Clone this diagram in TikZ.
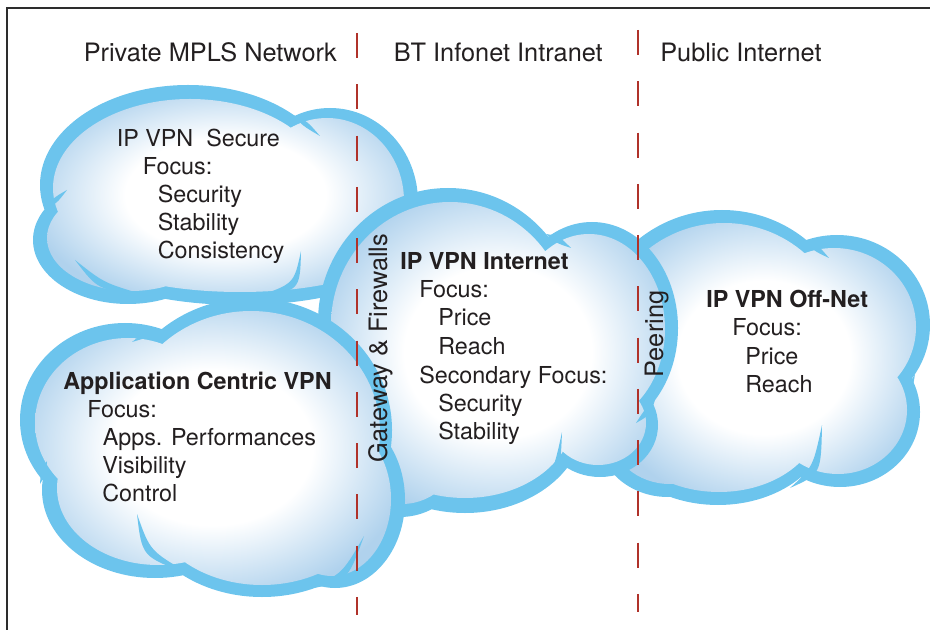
\documentclass[tikz,border=0pt]{standalone}
\usepackage{fontspec}
\setmainfont{TeX Gyre Heros}

\definecolor{rimblue}{RGB}{108,196,237}
\definecolor{cloudin}{RGB}{176,210,237}
\definecolor{ink}{RGB}{35,31,32}
\definecolor{borderred}{RGB}{176,50,42}
\definecolor{framegray}{RGB}{45,45,45}

% soft white core fading to pale blue towards the rim
\pgfdeclareradialshading{cloudglow}{\pgfpoint{0bp}{0bp}}{%
  color(0bp)=(white); color(13bp)=(white); color(26bp)=(cloudin); color(50bp)=(cloudin)}

\tikzset{
  txt/.style={anchor=base west, inner sep=0pt, text=ink, font=\fontsize{17.5}{21}\selectfont},
  hdr/.style={anchor=base west, inner sep=0pt, text=ink, font=\fontsize{17.5}{21}\selectfont\bfseries},
  zone/.style={anchor=base west, inner sep=0pt, text=ink, font=\fontsize{19}{23}\selectfont},
  sidelabel/.style={rotate=90, anchor=base, inner sep=0pt, text=ink, font=\fontsize{19}{23}\selectfont},
  boundary/.style={draw=borderred, line width=1.5pt, dash pattern=on 18.75pt off 19.7pt},
  horn/.style={fill=rimblue},
  rim/.style={fill=rimblue},
}

\begin{document}
\begin{tikzpicture}[x=0.75pt,y=-0.75pt]
\useasboundingbox (0,0) rectangle (930,630);

% outer frame (top and left edges)
\coordinate (fbl) at (7,631);
\coordinate (ftl) at (7,8);
\coordinate (ftr) at (931,8);
\draw[framegray, line width=1.1pt] (fbl) -- (ftl) -- (ftr);

% ---------------- cloud: IP VPN Secure ----------------
\fill[rim] (330,202) ellipse [x radius=88, y radius=94]
           (188,185) ellipse [x radius=148, y radius=100]
           (128,240) ellipse [x radius=95, y radius=64]
           (240,245) ellipse [x radius=170, y radius=60];
\begin{scope}
  \clip (327,201) ellipse [x radius=77, y radius=83]
        (190,188) ellipse [x radius=137, y radius=89]
        (131,238) ellipse [x radius=84, y radius=53]
        (240,243) ellipse [x radius=159, y radius=49];
  \shade[shading=cloudglow] (33,85) rectangle (418,305);
\end{scope}
\fill[horn] (293,115) .. controls (307,121) .. (320,136) .. controls (303,126) .. (293,115) -- cycle;
\fill[horn] (45,210) .. controls (53,198) .. (67,190) .. controls (57,203) .. (45,210) -- cycle;
\fill[horn] (145,295) .. controls (98,290) .. (75,260) .. controls (104,283) .. (145,295) -- cycle;
\fill[horn] (255,297) .. controls (300,291) .. (301,251) .. controls (294,284) .. (255,297) -- cycle;

% ---------------- cloud: IP VPN Off-Net ----------------
\fill[rim] (837,325) ellipse [x radius=93, y radius=90]
           (722,340) ellipse [x radius=132, y radius=130]
           (840,412) ellipse [x radius=80, y radius=75]
           (718,420) ellipse [x radius=112, y radius=85]
           (668,435) ellipse [x radius=70, y radius=62];
\begin{scope}
  \clip (834,327) ellipse [x radius=82, y radius=79]
        (724,342) ellipse [x radius=121, y radius=119]
        (838,410) ellipse [x radius=69, y radius=64]
        (719,418) ellipse [x radius=101, y radius=74]
        (670,433) ellipse [x radius=59, y radius=51];
  \shade[shading=cloudglow] (598,210) rectangle (930,505);
\end{scope}
\fill[horn] (804,240) .. controls (818,245) .. (829,258) .. controls (814,251) .. (804,240) -- cycle;
\fill[horn] (790,488) .. controls (821,474) .. (822,425) .. controls (813,467) .. (790,488) -- cycle;
\fill[horn] (915,374) .. controls (913,387) .. (906,397) .. controls (909,384) .. (915,374) -- cycle;

% ---------------- cloud: IP VPN Internet ----------------
\fill[rim] (592,328) ellipse [x radius=86, y radius=106]
           (600,425) ellipse [x radius=58, y radius=52]
           (448,322) ellipse [x radius=130, y radius=134]
           (465,418) ellipse [x radius=120, y radius=95]
           (400,445) ellipse [x radius=70, y radius=72];
\begin{scope}
  \clip (589,329) ellipse [x radius=76, y radius=95]
        (598,423) ellipse [x radius=48, y radius=42]
        (450,325) ellipse [x radius=119, y radius=123]
        (465,415) ellipse [x radius=109, y radius=83]
        (402,443) ellipse [x radius=59, y radius=61];
  \shade[shading=cloudglow] (318,188) rectangle (678,517);
\end{scope}
\fill[horn] (546,234) .. controls (559,236) .. (571,248) .. controls (556,243) .. (546,234) -- cycle;
\fill[horn] (655,400) .. controls (650,415) .. (636,423) .. controls (645,409) .. (655,400) -- cycle;
\fill[horn] (525,497) .. controls (560,480) .. (562,432) .. controls (553,474) .. (525,497) -- cycle;

% ---------------- cloud: Application Centric VPN ----------------
\fill[rim] (125,420) ellipse [x radius=105, y radius=97]
           (252,430) ellipse [x radius=140, y radius=132]
           (155,490) ellipse [x radius=113, y radius=88]
           (335,500) ellipse [x radius=70, y radius=88]
           (262,495) ellipse [x radius=128, y radius=102];
\begin{scope}
  \clip (128,423) ellipse [x radius=93, y radius=85]
        (251,432) ellipse [x radius=129, y radius=121]
        (158,488) ellipse [x radius=101, y radius=77]
        (332,499) ellipse [x radius=59, y radius=77]
        (262,493) ellipse [x radius=117, y radius=92];
  \shade[shading=cloudglow] (20,298) rectangle (405,597);
\end{scope}
\fill[horn] (162,329) .. controls (147,330) .. (132,342) .. controls (149,337) .. (162,329) -- cycle;
\fill[horn] (40,484) .. controls (41,470) .. (47,461) .. controls (46,474) .. (40,484) -- cycle;
\fill[horn] (190,574) .. controls (142,557) .. (137,514) .. controls (150,551) .. (190,574) -- cycle;
\fill[horn] (300,590) .. controls (347,583) .. (364,536) .. controls (341,576) .. (300,590) -- cycle;

% ---------------- zone boundaries ----------------
\coordinate (b1top) at (357,33);
\coordinate (b1bot) at (357,615);
\coordinate (b2top) at (638,30);
\coordinate (b2bot) at (638,612);
\draw[boundary] (b1top) -- (b1bot);
\draw[boundary] (b2top) -- (b2bot);

% ---------------- zone titles ----------------
\node[zone] (zprivate) at (83.5,62) {Private MPLS Network};
\node[zone] (zintranet) at (393.5,62) {BT Infonet Intranet};
\node[zone] (zpublic) at (660,62) {Public Internet};

% ---------------- boundary labels ----------------
\node[sidelabel] (gateway) at (387,348) {Gateway \& Firewalls};
\node[sidelabel] (peering) at (663,334) {Peering};

% ---------------- IP VPN Secure ----------------
\node[txt] (s1) at (116.5,147) {IP VPN~~Secure};
\node[txt] (s2) at (142.5,175) {Focus:};
\node[txt] (s3) at (157.5,203) {Security};
\node[txt] (s4) at (157.5,231) {Stability};
\node[txt] (s5) at (157.5,259) {Consistency};

% ---------------- Application Centric VPN ----------------
\node[hdr] (a1) at (63,389) {Application Centric VPN};
\node[txt] (a2) at (87,417) {Focus:};
\node[txt] (a3) at (102.5,445) {Apps. Performances};
\node[txt] (a4) at (102,473) {Visibility};
\node[txt] (a5) at (102,501) {Control};

% ---------------- IP VPN Internet ----------------
\node[hdr] (i1) at (400,270) {IP VPN Internet};
\node[txt] (i2) at (419,298) {Focus:};
\node[txt] (i3) at (438,326) {Price};
\node[txt] (i4) at (438,354) {Reach};
\node[txt] (i5) at (419,383) {Secondary Focus:};
\node[txt] (i6) at (438,411) {Security};
\node[txt] (i7) at (438,439) {Stability};

% ---------------- IP VPN Off-Net ----------------
\node[hdr] (o1) at (706,308) {IP VPN Off-Net};
\node[txt] (o2) at (732,336) {Focus:};
\node[txt] (o3) at (745,364) {Price};
\node[txt] (o4) at (745,392) {Reach};

\end{tikzpicture}
\end{document}
